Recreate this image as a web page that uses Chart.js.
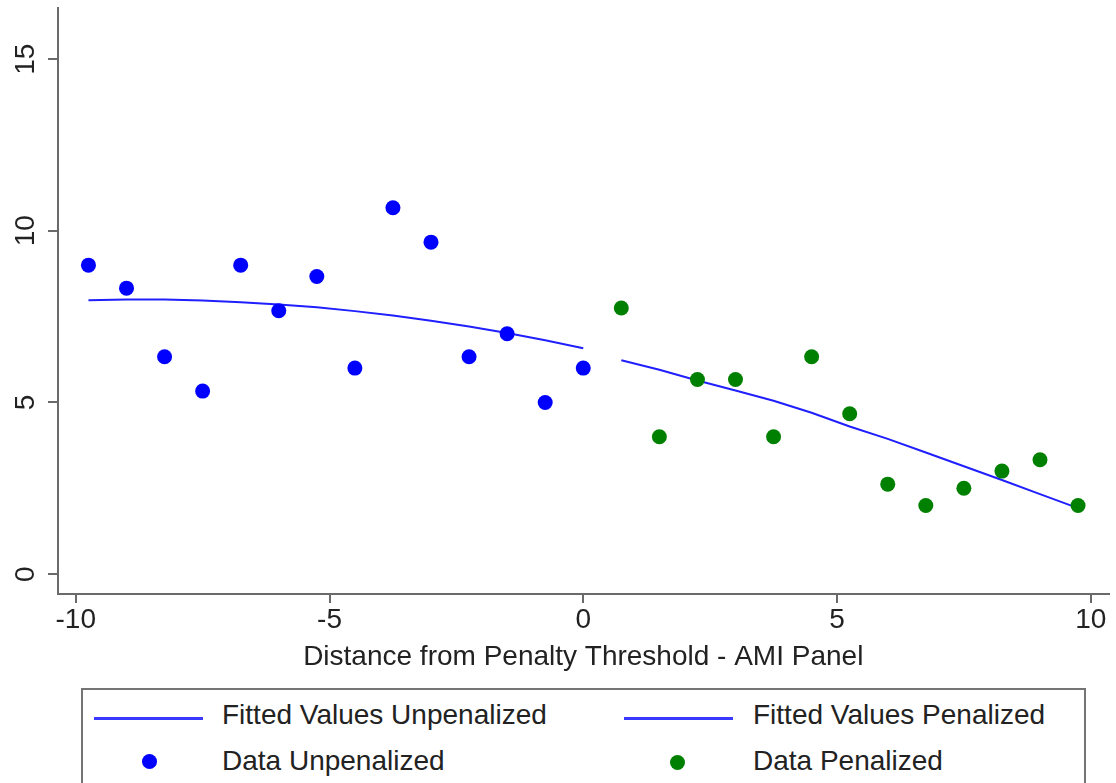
<!DOCTYPE html>
<html>
<head>
<meta charset="utf-8">
<script src="https://cdn.jsdelivr.net/npm/chart.js@4/dist/chart.umd.min.js"></script>
<style>
  html, body { margin: 0; padding: 0; background: #fff; }
  body { width: 1116px; height: 783px; position: relative; overflow: hidden;
         font-family: "Liberation Sans", Arial, Helvetica, sans-serif; color: #222; }
  #wrap { position: absolute; left: 0; top: 0; width: 1116px; height: 683px; }
  #legend { position: absolute; left: 81px; top: 688px; width: 1005px; height: 140px;
            border: 2px solid #747474; box-sizing: border-box; }
  .lg-line { position: absolute; height: 3px; background: #3a3aff; }
  .lg-dot { position: absolute; width: 15px; height: 15px; border-radius: 50%; }
  .lg-text { position: absolute; font-size: 28px; line-height: 34px; height: 34px; white-space: nowrap; color: #222; }
</style>
</head>
<body>
<div id="wrap"><canvas id="chart" width="1116" height="683"></canvas></div>

<div id="legend"></div>

<script>
// Running variable: distance from the penalty threshold (AMI panel)
const xUnpenalized = [-9.75, -9, -8.25, -7.5, -6.75, -6, -5.25, -4.5, -3.75, -3, -2.25, -1.5, -0.75, 0];
const xPenalized   = [0.75, 1.5, 2.25, 3, 3.75, 4.5, 5.25, 6, 6.75, 7.5, 8.25, 9, 9.75];

// Binned observations
const dataUnpenalized = [9.0, 8.33, 6.33, 5.33, 9.0, 7.67, 8.67, 6.0, 10.67, 9.67, 6.33, 7.0, 5.0, 6.0];
const dataPenalized   = [7.75, 4.0, 5.67, 5.67, 4.0, 6.33, 4.67, 2.62, 2.0, 2.5, 3.0, 3.33, 2.0];

// Fitted values on each side of the threshold
const fitUnpenalized = [7.98, 8.0, 8.0, 7.97, 7.92, 7.85, 7.77, 7.66, 7.53, 7.38, 7.21, 7.02, 6.81, 6.58];
const fitPenalized   = [6.23, 5.95, 5.64, 5.35, 5.05, 4.70, 4.30, 3.94, 3.54, 3.14, 2.74, 2.33, 1.92];

// Axis ticks and labels
const xTicks = [-10, -5, 0, 5, 10];
const yTicks = [0, 5, 10, 15];
const xTitle = 'Distance from Penalty Threshold - AMI Panel';
const legendLabels = ['Fitted Values Unpenalized', 'Fitted Values Penalized', 'Data Unpenalized', 'Data Penalized'];

const BLUE = '#0000ff';
const LINE_BLUE = '#1f1fff';
const GREEN = '#008000';
const AXIS = '#6a6a6a';
const FONT = '"Liberation Sans", Arial, Helvetica, sans-serif';

const pts = (xs, ys) => xs.map((x, i) => ({ x: x, y: ys[i] }));

new Chart(document.getElementById('chart'), {
  type: 'scatter',
  data: {
    datasets: [
      { label: legendLabels[2], data: pts(xUnpenalized, dataUnpenalized), order: 0,
        backgroundColor: BLUE, borderWidth: 0, pointRadius: 7.5, pointHoverRadius: 7.5 },
      { label: legendLabels[3], data: pts(xPenalized, dataPenalized), order: 0,
        backgroundColor: GREEN, borderWidth: 0, pointRadius: 7.5, pointHoverRadius: 7.5 },
      { label: legendLabels[0], data: pts(xUnpenalized, fitUnpenalized), order: 1,
        showLine: true, borderColor: LINE_BLUE, borderWidth: 2, pointRadius: 0, tension: 0, fill: false },
      { label: legendLabels[1], data: pts(xPenalized, fitPenalized), order: 1,
        showLine: true, borderColor: LINE_BLUE, borderWidth: 2, pointRadius: 0, tension: 0, fill: false }
    ]
  },
  options: {
    responsive: false,
    animation: false,
    devicePixelRatio: 1,
    layout: { padding: { top: 8, right: 3, left: 0, bottom: 0 } },
    plugins: { legend: { display: false }, tooltip: { enabled: false } },
    scales: {
      x: {
        type: 'linear', position: 'bottom', min: -10.35, max: 10.35,
        afterBuildTicks: s => { s.ticks = xTicks.map(v => ({ value: v })); },
        afterFit: s => { s.height = 89; s.paddingLeft = 0; s.paddingRight = 0; },
        grid: { display: true, drawOnChartArea: false, drawTicks: true, tickLength: 9, color: AXIS, lineWidth: 2 },
        border: { display: true, color: AXIS, width: 2 },
        ticks: { padding: 0, color: '#222', font: { family: FONT, size: 28 }, maxRotation: 0, autoSkip: false },
        title: { display: true, text: xTitle, color: '#222', font: { family: FONT, size: 28 }, padding: { top: 0, bottom: 9 } }
      },
      y: {
        type: 'linear', position: 'left', min: -0.58, max: 16.49,
        afterBuildTicks: s => { s.ticks = yTicks.map(v => ({ value: v })); },
        afterFit: s => { s.width = 58; s.paddingTop = 0; s.paddingBottom = 0; },
        grid: { display: true, drawOnChartArea: false, drawTicks: true, tickLength: 10, color: AXIS, lineWidth: 2 },
        border: { display: true, color: AXIS, width: 2 },
        ticks: { padding: 6, crossAlign: 'center', minRotation: 90, maxRotation: 90, color: '#222',
                 font: { family: FONT, size: 28 }, autoSkip: false }
      }
    }
  }
});

// Legend box below the plot: two columns, lines on the first row, markers on the second
const legend = document.getElementById('legend');
const lgItems = [
  { kind: 'line', sx: 94,  sy: 718, tx: 222, ty: 698, text: legendLabels[0] },
  { kind: 'line', sx: 624, sy: 718, tx: 753, ty: 698, text: legendLabels[1] },
  { kind: 'dot',  sx: 149, sy: 761, tx: 222, ty: 744, text: legendLabels[2], color: BLUE },
  { kind: 'dot',  sx: 677, sy: 762, tx: 753, ty: 744, text: legendLabels[3], color: GREEN }
];
const ox = 81 + 2, oy = 688 + 2;
lgItems.forEach(it => {
  const sym = document.createElement('div');
  if (it.kind === 'line') {
    sym.className = 'lg-line';
    sym.style.left = (it.sx - ox) + 'px';
    sym.style.top = (it.sy - 1 - oy) + 'px';
    sym.style.width = '109px';
  } else {
    sym.className = 'lg-dot';
    sym.style.left = (it.sx - 7.5 - ox) + 'px';
    sym.style.top = (it.sy - 7.5 - oy) + 'px';
    sym.style.background = it.color;
  }
  legend.appendChild(sym);
  const t = document.createElement('div');
  t.className = 'lg-text';
  t.style.left = (it.tx - ox) + 'px';
  t.style.top = (it.ty - oy) + 'px';
  t.textContent = it.text;
  legend.appendChild(t);
});
</script>
</body>
</html>
